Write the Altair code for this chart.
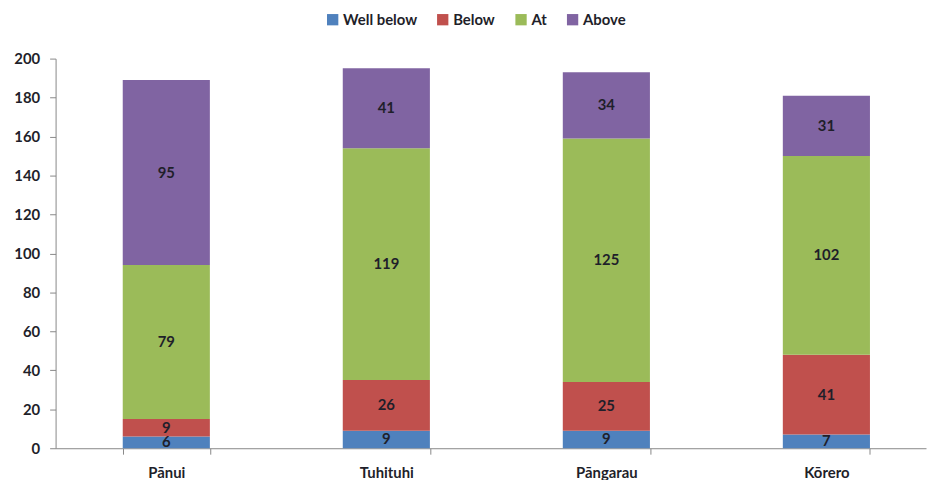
import altair as alt
import pandas as pd

subjects = ["Pānui", "Tuhituhi", "Pāngarau", "Kōrero"]
levels = ["Well below", "Below", "At", "Above"]
well_below = [6, 9, 9, 7]
below = [9, 26, 25, 41]
at = [79, 119, 125, 102]
above = [95, 41, 34, 31]
y_ticks = [0, 20, 40, 60, 80, 100, 120, 140, 160, 180, 200]
colors = ["#4F81BD", "#C0504D", "#9BBB59", "#8064A2"]

rows = []
for i, s in enumerate(subjects):
    for k, (lev, vals) in enumerate(zip(levels, [well_below, below, at, above])):
        rows.append({"subject": s, "level": lev, "value": vals[i], "order": k})
df = pd.DataFrame(rows)

FONT = "Lato"
TXT = "#1f1f2a"

base = alt.Chart(df).transform_stack(
    stack="value", groupby=["subject"], as_=["y0", "y1"],
    sort=[alt.SortField("order", order="ascending")]
).transform_calculate(mid="(datum.y0 + datum.y1) / 2")

xscale = alt.Scale(paddingInner=0.604, paddingOuter=0.28, align=0.545)
yscale = alt.Scale(domain=[0, 200], nice=False)

xaxis = alt.Axis(labelAngle=0, labelFont=FONT, labelFontSize=15, labelFontWeight="bold",
                 labelColor=TXT, domainColor="#888888", tickColor="#888888",
                 tickSize=6, tickBand="extent", labelPadding=12)
yaxis = alt.Axis(values=y_ticks, grid=False, labelFont=FONT,
                 labelFontSize=15, labelFontWeight="bold", labelColor=TXT,
                 labelOverlap=False,
                 domainColor="#888888", tickColor="#888888", tickSize=6,
                 labelPadding=10)

bars = base.mark_bar().encode(
    x=alt.X("subject:N", sort=subjects, title=None, scale=xscale, axis=xaxis),
    y=alt.Y("y0:Q", title=None, scale=yscale, axis=yaxis),
    y2="y1:Q",
    color=alt.Color("level:N", sort=levels,
                    scale=alt.Scale(domain=levels, range=colors),
                    legend=alt.Legend(title=None, orient="none", direction="horizontal",
                                      legendX=272, legendY=-47, symbolType="square",
                                      symbolSize=130, symbolStrokeWidth=0,
                                      labelFont=FONT, labelFontSize=15, labelFontWeight="bold",
                                      labelColor=TXT, columnPadding=18, labelOffset=3)),
)

labels = base.mark_text(font=FONT, fontSize=15, fontWeight="bold", color=TXT, baseline="middle").encode(
    x=alt.X("subject:N", sort=subjects, title=None, scale=xscale, axis=xaxis),
    y=alt.Y("mid:Q", title=None, scale=yscale, axis=yaxis),
    text=alt.Text("value:Q"),
)

chart = (bars + labels).properties(
    width=878, height=393,
    autosize=alt.AutoSizeParams(type="none"),
    padding={"left": 48, "top": 49, "right": 2, "bottom": 30},
).configure_view(stroke=None)

chart.save("out.html", embed_options={"renderer": "svg", "actions": False})
